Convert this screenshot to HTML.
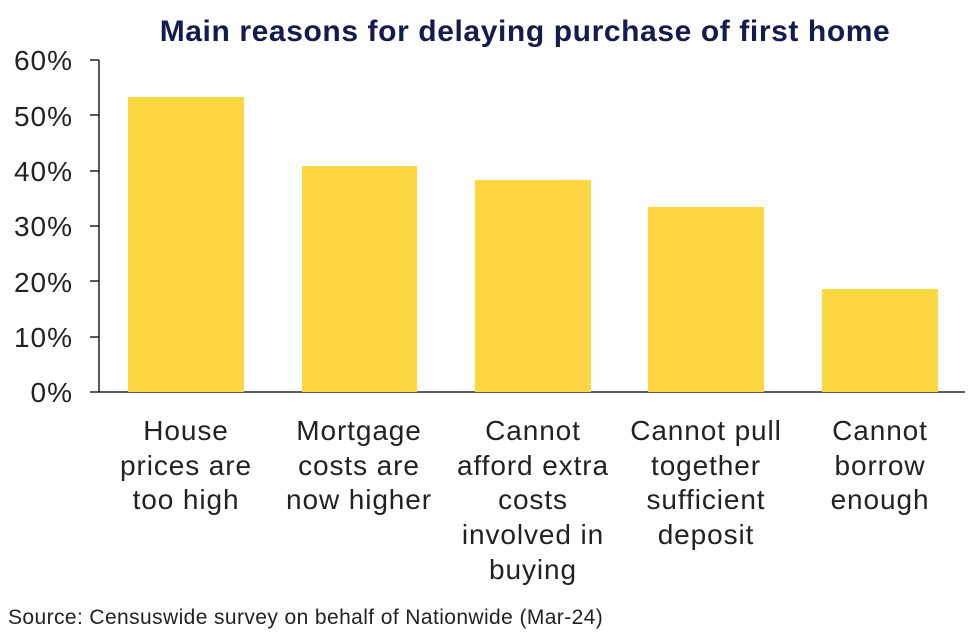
<!DOCTYPE html>
<html><head><style>
body{margin:0;background:#fff;width:975px;height:635px;overflow:hidden;font-family:"Liberation Sans",sans-serif;}
</style></head><body>
<svg width="975" height="635" xmlns="http://www.w3.org/2000/svg" font-family="Liberation Sans, sans-serif">
<text x="525" y="41" text-anchor="middle" font-size="30" font-weight="bold" fill="#141b4d" letter-spacing="0.6">Main reasons for delaying purchase of first home</text>
<g fill="#222" font-size="28" text-anchor="end" letter-spacing="1">
<text x="73" y="70">60%</text>
<text x="73" y="126">50%</text>
<text x="73" y="181">40%</text>
<text x="73" y="236">30%</text>
<text x="73" y="292">20%</text>
<text x="73" y="347">10%</text>
<text x="73" y="402">0%</text>
</g>
<g stroke="#000" stroke-width="1.3">
<line x1="99" y1="60" x2="99" y2="392"/>
<line x1="90" y1="60" x2="99" y2="60"/>
<line x1="90" y1="115" x2="99" y2="115"/>
<line x1="90" y1="171" x2="99" y2="171"/>
<line x1="90" y1="226" x2="99" y2="226"/>
<line x1="90" y1="281" x2="99" y2="281"/>
<line x1="90" y1="337" x2="99" y2="337"/>
<line x1="90" y1="392" x2="965" y2="392"/>
</g>
<g fill="#fdd641">
<rect x="128" y="97" width="116" height="295"/>
<rect x="302" y="166" width="115" height="226"/>
<rect x="475" y="180" width="116" height="212"/>
<rect x="648" y="207" width="116" height="185"/>
<rect x="822" y="289" width="116" height="103"/>
</g>
<g fill="#222" font-size="28" text-anchor="middle" letter-spacing="0.9">
<text x="186" y="440">House</text><text x="186" y="475">prices are</text><text x="186" y="509">too high</text>
<text x="359" y="440">Mortgage</text><text x="359" y="475">costs are</text><text x="359" y="509">now higher</text>
<text x="533" y="440">Cannot</text><text x="533" y="475">afford extra</text><text x="533" y="509">costs</text><text x="533" y="544">involved in</text><text x="533" y="579">buying</text>
<text x="706" y="440">Cannot pull</text><text x="706" y="475">together</text><text x="706" y="509">sufficient</text><text x="706" y="544">deposit</text>
<text x="880" y="440">Cannot</text><text x="880" y="475">borrow</text><text x="880" y="509">enough</text>
</g>
<text x="8" y="624" font-size="21" fill="#222" letter-spacing="0.4">Source: Censuswide survey on behalf of Nationwide (Mar-24)</text>
</svg>
</body></html>
